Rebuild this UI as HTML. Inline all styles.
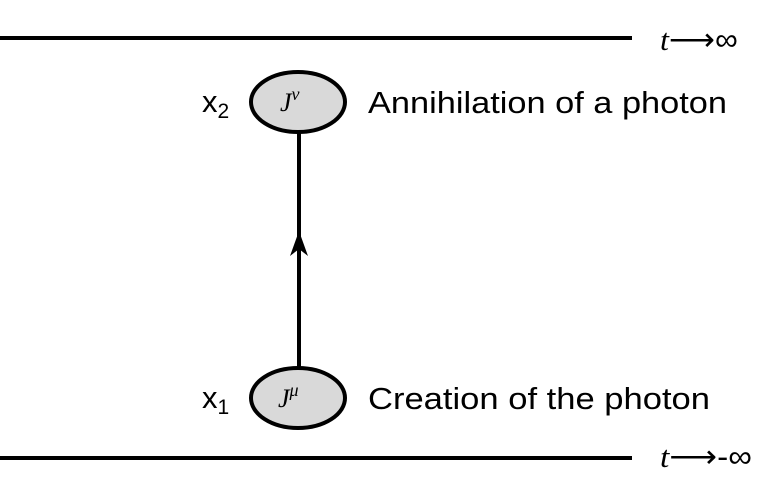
<!DOCTYPE html>
<html><head><meta charset="utf-8"><style>
html,body{margin:0;padding:0;background:#fff;width:779px;height:497px;overflow:hidden}
svg{display:block}
</style></head><body>
<svg width="779" height="497" viewBox="0 0 779 497" font-family="Liberation Sans, sans-serif">
<line x1="0" y1="38" x2="632" y2="38" stroke="#000" stroke-width="4"/>
<line x1="0" y1="458" x2="632" y2="458" stroke="#000" stroke-width="4"/>
<text x="660" y="50" font-size="31" textLength="78" lengthAdjust="spacingAndGlyphs"><tspan style="font-family:'Liberation Serif',serif;font-style:italic">t</tspan>⟶∞</text>
<text x="660" y="467" font-size="31" textLength="92" lengthAdjust="spacingAndGlyphs"><tspan style="font-family:'Liberation Serif',serif;font-style:italic">t</tspan>⟶-∞</text>
<line x1="299" y1="133" x2="299" y2="368" stroke="#000" stroke-width="4"/>
<path d="M299 231 L290 256 L299 249 L308 256 Z" fill="#000"/>
<ellipse cx="298" cy="102" rx="47" ry="30" fill="#d9d9d9" stroke="#000" stroke-width="4"/>
<ellipse cx="298" cy="398" rx="47" ry="30" fill="#d9d9d9" stroke="#000" stroke-width="4"/>
<text x="280" y="111" font-size="26" style="font-family:'Liberation Serif',serif;font-style:italic">J<tspan font-size="18" dy="-11">ν</tspan></text>
<text x="278" y="407" font-size="26" style="font-family:'Liberation Serif',serif;font-style:italic">J<tspan font-size="18" dy="-11">μ</tspan></text>
<text x="202" y="112" font-size="31">x<tspan font-size="21" dy="6">2</tspan></text>
<text x="202" y="408" font-size="31">x<tspan font-size="21" dy="6">1</tspan></text>
<text x="368" y="113" font-size="31" textLength="359" lengthAdjust="spacingAndGlyphs">Annihilation of a photon</text>
<text x="368" y="409" font-size="31" textLength="342" lengthAdjust="spacingAndGlyphs">Creation of the photon</text>
</svg>
</body></html>
